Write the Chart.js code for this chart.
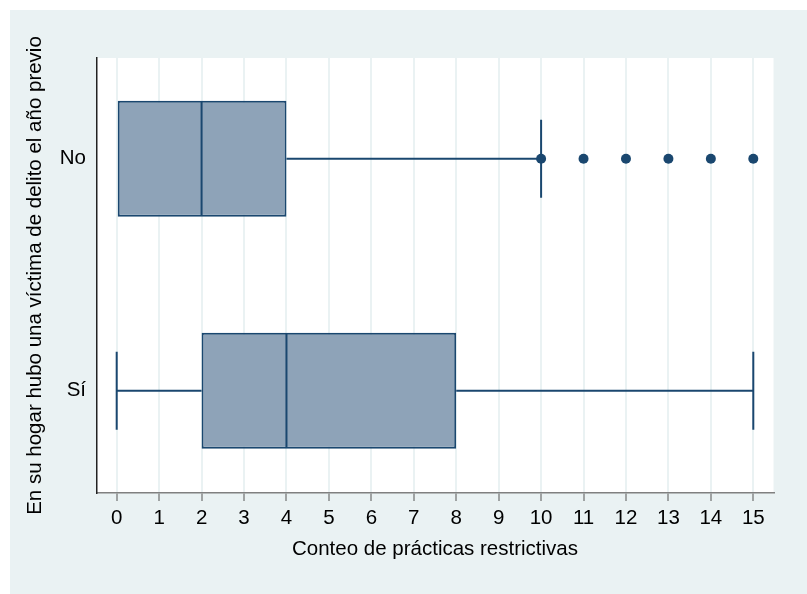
<!DOCTYPE html>
<html lang="es">
<head>
<meta charset="utf-8">
<title>Conteo de prácticas restrictivas</title>
<script src="https://cdn.jsdelivr.net/npm/chart.js@4.4.1/dist/chart.umd.min.js"></script>
<style>
  html, body { margin: 0; padding: 0; background: #fff; }
  #marco { position: absolute; left: 10px; top: 10px; width: 797px; height: 584px; background: #eaf2f3; }
</style>
</head>
<body>
<div id="marco"><canvas id="grafico"></canvas></div>
<script>
// Datos del gráfico de cajas
const categorias = ['No', 'Sí'];
const q1 = [0, 2];
const mediana = [2, 4];
const q3 = [4, 8];
const bigoteInf = [0, 0];
const bigoteSup = [10, 15];
const atipicos = [
    [10, 11, 12, 13, 14, 15],
    []
];
const ticksX = [0, 1, 2, 3, 4, 5, 6, 7, 8, 9, 10, 11, 12, 13, 14, 15];

const azul = '#1a476f';
const relleno = '#8ea3b8';

Chart.defaults.font.family = '"Liberation Sans", Arial, sans-serif';
Chart.defaults.color = '#000';

//Arma los datasets
const datasets = [];

// cajas (de q1 a q3)
datasets.push({
    type: 'bar',
    indexAxis: 'y',
    data: categorias.map((c, i) => ({ y: i + 1, x: [q1[i], q3[i]] })),
    backgroundColor: relleno,
    borderColor: azul,
    borderWidth: 2,
    borderSkipped: false,
    grouped: false,
    barPercentage: 0.5,
    categoryPercentage: 1,
    order: 4
});

// bigotes
categorias.forEach((c, i) => {
    if (bigoteInf[i] < q1[i]) {
        datasets.push({
            type: 'scatter', showLine: true,
            data: [{ x: bigoteInf[i], y: i + 1 }, { x: q1[i], y: i + 1 }],
            borderColor: azul, borderWidth: 2, pointRadius: 0, order: 5
        });
    }
    if (bigoteSup[i] > q3[i]) {
        datasets.push({
            type: 'scatter', showLine: true,
            data: [{ x: q3[i], y: i + 1 }, { x: bigoteSup[i], y: i + 1 }],
            borderColor: azul, borderWidth: 2, pointRadius: 0, order: 5
        });
    }
});

// extremos de los bigotes
const extremos = [];
categorias.forEach((c, i) => {
    if (bigoteInf[i] < q1[i]) extremos.push({ x: bigoteInf[i], y: i + 1 });
    if (bigoteSup[i] > q3[i]) extremos.push({ x: bigoteSup[i], y: i + 1 });
});
datasets.push({
    type: 'scatter',
    data: extremos,
    pointStyle: 'line', rotation: 90, pointRadius: 39,
    borderColor: azul, borderWidth: 2, order: 3
});

// medianas
datasets.push({
    type: 'scatter',
    data: categorias.map((c, i) => ({ x: mediana[i], y: i + 1 })),
    pointStyle: 'line', rotation: 90, pointRadius: 57,
    borderColor: azul, borderWidth: 2, order: 2
});

// valores atípicos
const puntos = [];
atipicos.forEach((lista, i) => lista.forEach(v => puntos.push({ x: v, y: i + 1 })));
datasets.push({
    type: 'scatter',
    data: puntos,
    pointStyle: 'circle', pointRadius: 5,
    backgroundColor: azul, borderWidth: 0, order: 1
});

// fondo blanco del área de trazado
const fondoBlanco = {
    id: 'fondoBlanco',
    beforeDraw(chart) {
        const a = chart.chartArea;
        chart.ctx.save();
        chart.ctx.fillStyle = '#fff';
        chart.ctx.fillRect(a.left, a.top, a.right - a.left, a.bottom - a.top);
        chart.ctx.restore();
    }
};

new Chart(document.getElementById('grafico'), {
    type: 'bar',
    data: { datasets: datasets },
    plugins: [fondoBlanco],
    options: {
        responsive: true,
        maintainAspectRatio: false,
        animation: false,
        events: [],
        layout: { autoPadding: false, padding: { top: 48, right: 33.5, bottom: 0, left: 0 } },
        plugins: { legend: { display: false }, tooltip: { enabled: false } },
        scales: {
            x: {
                type: 'linear',
                offset: false,
                min: -0.476,
                max: 15.476,
                afterBuildTicks: s => { s.ticks = ticksX.map(v => ({ value: v })); },
                afterFit: s => { s.height = 101; s.paddingLeft = 0; s.paddingRight = 0; },
                grid: { offset: false, color: '#eaf2f3', lineWidth: 2, tickColor: '#555', tickLength: 8, tickWidth: 1 },
                border: { color: '#808080', width: 1.5 },
                ticks: { font: { size: 20.5 }, padding: 5, autoSkip: false, maxRotation: 0 },
                title: {
                    display: true,
                    text: 'Conteo de prácticas restrictivas',
                    font: { size: 20.5 },
                    padding: { top: 0, bottom: 32 }
                }
            },
            y: {
                type: 'linear',
                offset: false,
                reverse: true,
                min: 0.5655,
                max: 2.4405,
                afterBuildTicks: s => { s.ticks = categorias.map((c, i) => ({ value: i + 1 })); },
                afterFit: s => { s.width = 86.5; s.paddingTop = 0; s.paddingBottom = 0; },
                grid: { display: false, offset: false },
                border: { color: '#222', width: 1.5 },
                ticks: { font: { size: 20.5 }, padding: 2.5, callback: v => categorias[v - 1] },
                title: {
                    display: true,
                    text: 'En su hogar hubo una víctima de delito el año previo',
                    font: { size: 20.5 },
                    padding: { top: 13.5, bottom: 0 }
                }
            }
        }
    }
});
</script>
</body>
</html>
